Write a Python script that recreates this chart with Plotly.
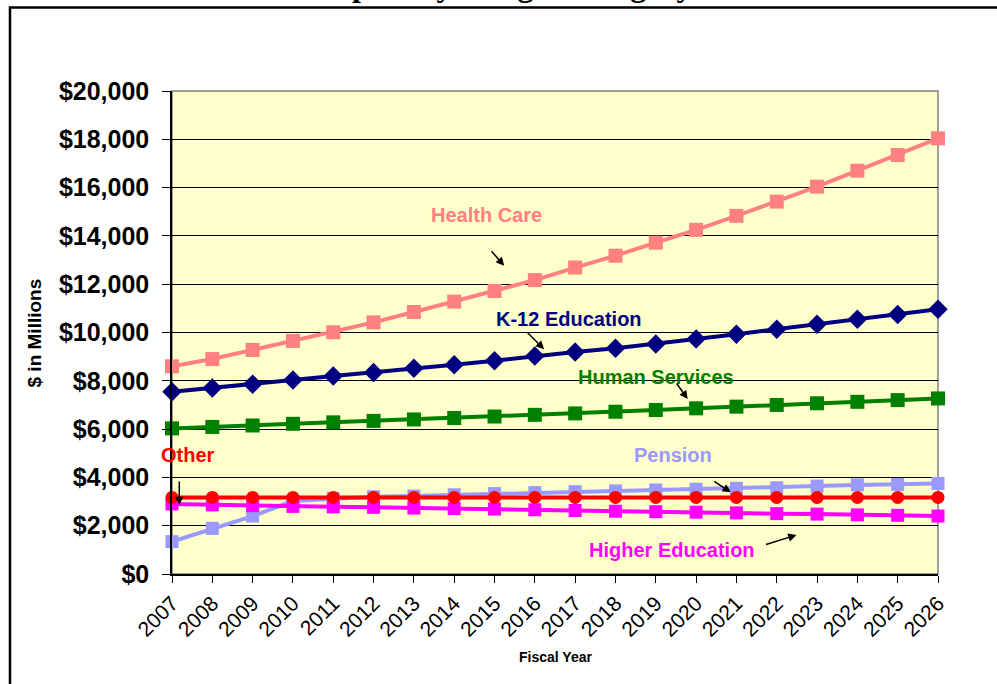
import plotly.graph_objects as go

years = list(range(2007, 2027))

health_care = [8600, 8900, 9280, 9650, 10010, 10420, 10850, 11280, 11720, 12170,
               12690, 13180, 13720, 14250, 14830, 15420, 16040, 16700, 17350, 18040]
k12_education = [7550, 7700, 7860, 8030, 8200, 8340, 8520, 8660, 8830, 9030,
                 9190, 9350, 9520, 9730, 9930, 10130, 10340, 10550, 10750, 10960]
human_services = [6030, 6090, 6150, 6220, 6280, 6340, 6400, 6460, 6520, 6590,
                  6650, 6720, 6790, 6860, 6930, 7000, 7070, 7130, 7200, 7270]
pension = [1340, 1890, 2400, 3020, 3130, 3200, 3230, 3280, 3330, 3370,
           3410, 3440, 3480, 3510, 3550, 3570, 3640, 3690, 3710, 3750]
higher_education = [2900, 2860, 2830, 2800, 2780, 2760, 2730, 2710, 2690, 2660,
                    2630, 2600, 2580, 2560, 2530, 2500, 2480, 2450, 2430, 2400]
other = [3170, 3170, 3170, 3170, 3170, 3170, 3170, 3170, 3170, 3170,
         3170, 3170, 3170, 3170, 3170, 3170, 3170, 3170, 3170, 3170]

y_ticks = [0, 2000, 4000, 6000, 8000, 10000, 12000, 14000, 16000, 18000, 20000]
y_tick_labels = ["$0", "$2,000", "$4,000", "$6,000", "$8,000", "$10,000",
                 "$12,000", "$14,000", "$16,000", "$18,000", "$20,000"]

FONT = "Liberation Sans"

series = [
    ("Health Care", health_care, "#FF8080", "square", 14),
    ("K-12 Education", k12_education, "#000080", "diamond", 15),
    ("Human Services", human_services, "#008000", "square", 14),
    ("Pension", pension, "#9999FF", "square", 13),
    ("Higher Education", higher_education, "#FF00FF", "square", 13),
    ("Other", other, "#FF0000", "circle", 13),
]

fig = go.Figure()
for name, vals, color, sym, size in series:
    fig.add_trace(go.Scatter(
        x=years, y=vals, name=name, mode="lines+markers",
        line=dict(color=color, width=4),
        marker=dict(symbol=sym, size=size, color=color, line=dict(width=0)),
        cliponaxis=False, showlegend=False,
    ))

# series labels (text, x, y, color)
labels = [
    ("Health Care", 2014.81, 14865, "#FF8080"),
    ("K-12 Education", 2016.85, 10547, "#000080"),
    ("Human Services", 2019.0, 8170, "#008000"),
    ("Other", 2007.40, 4928, "#FF0000"),
    ("Pension", 2019.42, 4928, "#9999FF"),
    ("Higher Education", 2019.39, 994, "#FF00FF"),
]
annotations = []
for text, x, y, color in labels:
    annotations.append(dict(
        x=x, y=y, xref="x", yref="y", text="<b>" + text + "</b>",
        showarrow=False, font=dict(family=FONT, size=20, color=color),
        xanchor="center", yanchor="middle",
    ))

# arrows (tip x, tip y, tail offset ax, ay in px)
arrows = [
    (2015.24, 12766, -14, -16),
    (2016.23, 9305, -18, -18),
    (2019.79, 7246, -12, -17),
    (2007.18, 2857, 0, -25),
    (2020.86, 3383, -18, -12),
    (2022.49, 1615, -32, 10),
]
for x, y, ax, ay in arrows:
    annotations.append(dict(
        x=x, y=y, xref="x", yref="y", ax=ax, ay=ay, text="",
        showarrow=True, arrowhead=2, arrowsize=1.1, arrowwidth=1.5,
        arrowcolor="#000000", standoff=0,
    ))

# title (cut off at the top, as in the source image)
annotations.append(dict(
    x=0.432, y=1.1785, xref="paper", yref="paper",
    text="<b>Impact by Budget Category</b>", showarrow=False,
    font=dict(family="Liberation Serif", size=32, color="#000000"),
    xanchor="center", yanchor="bottom",
))
# axis titles
annotations.append(dict(
    x=0.5, y=-0.172, xref="paper", yref="paper", text="<b>Fiscal Year</b>",
    showarrow=False, font=dict(family=FONT, size=14, color="#000000"),
    xanchor="center", yanchor="middle",
))
annotations.append(dict(
    x=-0.1795, y=0.499, xref="paper", yref="paper", text="<b>$ in Millions</b>",
    showarrow=False, textangle=-90, font=dict(family=FONT, size=19, color="#000000"),
    xanchor="center", yanchor="middle",
))

shapes = [
    # plot area gray border
    dict(type="rect", xref="paper", yref="paper", x0=0, y0=0, x1=1, y1=1,
         line=dict(color="#808080", width=1.5), layer="below"),
    # outer frame
    dict(type="rect", xref="paper", yref="paper", x0=-0.2115, y0=-0.30,
         x1=1.10, y1=1.1729, line=dict(color="#000000", width=2.5)),
]

fig.update_layout(
    width=997, height=684,
    margin=dict(l=172, r=59, t=91, b=110),
    paper_bgcolor="#FFFFFF", plot_bgcolor="#FFFFCC",
    font=dict(family=FONT, color="#000000"),
    annotations=annotations, shapes=shapes,
    xaxis=dict(
        range=[2007, 2026], tickmode="array", tickvals=years,
        ticktext=[str(y) for y in years], tickangle=-45,
        tickfont=dict(family=FONT, size=21, color="#000000"),
        ticks="outside", ticklen=7, tickcolor="#000000", tickwidth=1,
        showline=True, linecolor="#000000", linewidth=1.5,
        showgrid=False, zeroline=False,
    ),
    yaxis=dict(
        range=[0, 20000], tickmode="array", tickvals=y_ticks,
        ticktext=["<b>" + t + "</b>" for t in y_tick_labels],
        tickfont=dict(family=FONT, size=25, color="#000000"),
        ticks="outside", ticklen=8, tickcolor="#000000", tickwidth=1,
        showline=True, linecolor="#000000", linewidth=1.5,
        showgrid=True, gridcolor="#000000", gridwidth=1, zeroline=False,
        ticklabelstandoff=8,
    ),
)

fig.write_html("out.html")
